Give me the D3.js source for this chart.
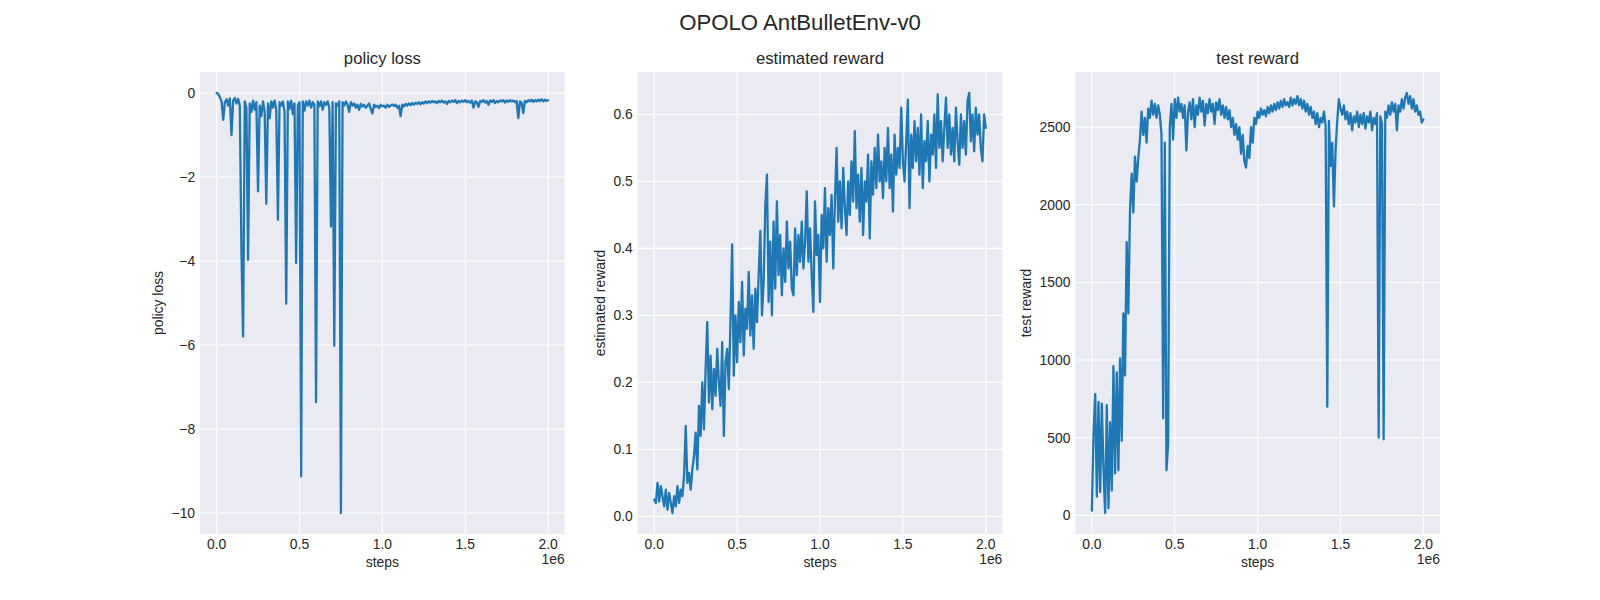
<html>
<head>
<meta charset="utf-8">
<script src="https://d3js.org/d3.v7.min.js"></script>
<style>
body { margin: 0; background: #ffffff; }
text { font-family: "Liberation Sans", Arial, sans-serif; fill: #262626; }
</style>
</head>
<body>
<svg id="fig" width="1600" height="600"></svg>
<script>

// Chart texts
var suptitle = "OPOLO AntBulletEnv-v0";
var panelTitles = ["policy loss", "estimated reward", "test reward"];
var xLabel = "steps";
var xOffsetLabel = "1e6";

// x axis ticks (steps) shared by all three panels
var xTicks = [0, 500000, 1000000, 1500000, 2000000];
var xTickLabels = ["0.0", "0.5", "1.0", "1.5", "2.0"];
var stepSize = 10000; // one logged value every 10k steps

// y axis ticks per panel
var policyLossTicks = [0, -2, -4, -6, -8, -10];
var estRewardTicks = [0.0, 0.1, 0.2, 0.3, 0.4, 0.5, 0.6];
var testRewardTicks = [0, 500, 1000, 1500, 2000, 2500];

// values, one per 10k steps
var policyLoss = [
  0.0, -0.02, -0.1, -0.2, -0.64, -0.22, -0.15, -0.3, -0.13, -1.0,
  -0.18, -0.12, -0.25, -0.14, -0.3, -3.75, -5.8, -0.2, -0.35, -3.97,
  -0.25, -0.45, -0.18, -0.4, -0.22, -2.34, -0.3, -0.55, -0.2, -0.45,
  -2.64, -0.25, -0.6, -0.2, -0.35, -0.18, -0.4, -3.02, -0.22, -0.3,
  -0.2, -0.45, -5.02, -0.2, -0.38, -0.18, -0.5, -0.25, -4.05, -0.3,
  -0.22, -9.13, -0.2, -0.42, -0.2, -0.3, -0.18, -0.35, -0.22, -0.28,
  -7.36, -0.2, -0.32, -0.2, -0.4, -0.22, -0.28, -0.2, -0.35, -3.18,
  -0.22, -6.02, -0.25, -0.3, -0.2, -10.0, -0.22, -0.3, -0.2, -0.28,
  -0.45, -0.22, -0.3, -0.25, -0.35, -0.28, -0.4, -0.26, -0.32, -0.28,
  -0.35, -0.3, -0.25, -0.38, -0.49, -0.28, -0.33, -0.3, -0.36, -0.28,
  -0.32, -0.3, -0.35, -0.28, -0.33, -0.3, -0.27, -0.31, -0.28, -0.35,
  -0.3, -0.55, -0.28, -0.32, -0.26, -0.3, -0.25, -0.29, -0.24, -0.28,
  -0.23, -0.26, -0.22, -0.27, -0.22, -0.25, -0.2, -0.24, -0.2, -0.23,
  -0.19, -0.22, -0.2, -0.24, -0.19, -0.22, -0.18, -0.23, -0.2, -0.26,
  -0.19, -0.22, -0.18, -0.21, -0.17, -0.24, -0.19, -0.22, -0.18, -0.21,
  -0.17, -0.22, -0.19, -0.23, -0.18, -0.35, -0.2, -0.22, -0.33, -0.19,
  -0.21, -0.17, -0.23, -0.19, -0.28, -0.18, -0.21, -0.17, -0.24, -0.19,
  -0.22, -0.18, -0.2, -0.17, -0.23, -0.18, -0.21, -0.17, -0.2, -0.18,
  -0.22, -0.19, -0.6, -0.2, -0.23, -0.48, -0.19, -0.22, -0.17, -0.2,
  -0.16, -0.21, -0.17, -0.2, -0.16, -0.19, -0.15, -0.2, -0.16, -0.19,
  -0.17
];

var estimatedReward = [
  0.025, 0.02, 0.05, 0.022, 0.045, 0.03, 0.015, 0.04, 0.01, 0.035,
  0.02, 0.005, 0.03, 0.015, 0.045, 0.02, 0.04, 0.03, 0.06, 0.135,
  0.05, 0.065, 0.04, 0.07, 0.09, 0.125, 0.07, 0.165, 0.12, 0.2,
  0.13, 0.22, 0.29, 0.17, 0.24, 0.16, 0.22, 0.18, 0.25, 0.2,
  0.165, 0.26, 0.12, 0.23, 0.25, 0.19, 0.29, 0.406, 0.21, 0.3,
  0.23, 0.32, 0.26, 0.35, 0.24, 0.31, 0.28, 0.365, 0.27, 0.33,
  0.25, 0.34, 0.29, 0.36, 0.426, 0.3, 0.35, 0.463, 0.51, 0.32,
  0.41, 0.3, 0.44, 0.34, 0.47, 0.36, 0.42, 0.33, 0.4, 0.35,
  0.44, 0.37, 0.41, 0.34, 0.33, 0.43, 0.36, 0.42, 0.38, 0.44,
  0.37, 0.41, 0.485, 0.38, 0.43, 0.36, 0.305, 0.47, 0.39, 0.42,
  0.32, 0.45, 0.4, 0.49, 0.38, 0.46, 0.42, 0.48, 0.37, 0.47,
  0.55, 0.44, 0.5, 0.43, 0.52, 0.46, 0.42, 0.5, 0.45, 0.53,
  0.47, 0.575, 0.46, 0.51, 0.44, 0.52, 0.42, 0.5, 0.47, 0.54,
  0.415, 0.53, 0.48, 0.55, 0.49, 0.57, 0.5, 0.53, 0.475, 0.55,
  0.5, 0.58, 0.49, 0.54, 0.455, 0.57, 0.51, 0.55, 0.52, 0.61,
  0.53, 0.5, 0.56, 0.622, 0.46, 0.57, 0.52, 0.59, 0.53, 0.58,
  0.51, 0.6, 0.49, 0.56, 0.53, 0.59, 0.5, 0.57, 0.54, 0.6,
  0.52, 0.63, 0.55, 0.59, 0.53, 0.58, 0.625, 0.55, 0.6, 0.54,
  0.58, 0.53, 0.61, 0.56, 0.525, 0.6, 0.55, 0.59, 0.54, 0.62,
  0.632, 0.56, 0.6, 0.545, 0.61, 0.57, 0.6, 0.55, 0.53, 0.6,
  0.58
];

var testReward = [
  30, 530, 780, 120, 730, 150, 720, 300, 15, 710,
  45, 600, 160, 960, 270, 920, 290, 1010, 480, 1300,
  900, 1760, 1300, 1960, 2200, 1950, 2310, 2150, 2300, 2420,
  2600, 2450, 2560, 2400, 2620, 2560, 2670, 2580, 2650, 2560,
  2640, 2580, 2450, 625, 2400, 290, 460, 2500, 2650, 2420,
  2680, 2560, 2690, 2600, 2650, 2560, 2640, 2350, 2600, 2660,
  2550, 2680, 2500, 2640, 2580, 2690, 2600, 2670, 2510, 2650,
  2590, 2680, 2600, 2650, 2520, 2660, 2610, 2680, 2580, 2640,
  2560, 2630, 2550, 2610, 2500, 2560, 2450, 2520, 2420, 2500,
  2330, 2450, 2280, 2240, 2380, 2300, 2500, 2400, 2560, 2520,
  2600, 2560, 2620, 2580, 2610, 2570, 2630, 2590, 2640, 2600,
  2650, 2610, 2660, 2620, 2670, 2630, 2680, 2640, 2660, 2630,
  2690, 2640, 2680, 2650, 2700, 2640, 2680, 2620, 2670, 2600,
  2650, 2580, 2630, 2560, 2600, 2520, 2590, 2500, 2560, 2530,
  2600, 2510, 700, 2540, 2250, 2400, 1990, 2350, 2540, 2680,
  2620, 2580, 2640, 2550, 2600, 2520, 2590, 2480, 2570, 2530,
  2600, 2500, 2580, 2520, 2590, 2490, 2570, 2530, 2600, 2480,
  2560, 2520, 2590, 500, 2570, 2520, 490, 2600, 2560, 2640,
  2580, 2660, 2600, 2650, 2480, 2640, 2600, 2680, 2620, 2690,
  2720, 2650, 2700, 2620, 2680, 2600, 2640, 2580, 2600, 2530,
  2550
];

// Figure layout, same as matplotlib subplots(1, 3) on a 16x6 figure
var figW = 1600, figH = 600;
var axLeft = 0.125 * figW, axRight = 0.9 * figW;
var axTop = (1 - 0.88) * figH, axBottom = (1 - 0.11) * figH;
var axW = (axRight - axLeft) / (3 + 2 * 0.2);
var axGap = 0.2 * axW;
var axH = axBottom - axTop;

var lineColor = "#1f77b4";
var faceColor = "#eaeaf2";

var svg = d3.select("#fig");

svg.append("text")
  .attr("x", figW / 2)
  .attr("y", 29.5)
  .attr("text-anchor", "middle")
  .style("font-size", "22.2px")
  .text(suptitle);

// pads the data range by 5% on each side, like matplotlib autoscaling
var paddedExtent = function(values) {
  var ext = d3.extent(values);
  var pad = (ext[1] - ext[0]) * 0.05;
  return [ext[0] - pad, ext[1] + pad];
};

var minusFormat = function(v) {
  return String(v).replace("-", "\u2212");
};

var drawPanel = function(k, values, yTicks, yFormat) {
  var x0 = axLeft + k * (axW + axGap);
  var g = svg.append("g").attr("transform", "translate(" + x0 + "," + axTop + ")");

  var steps = values.map(function(v, i) { return i * stepSize; });

  var x = d3.scaleLinear()
    .domain(paddedExtent(steps))
    .range([0, axW]);

  var y = d3.scaleLinear()
    .domain(paddedExtent(values))
    .range([axH, 0]);

  g.append("rect")
    .attr("width", axW)
    .attr("height", axH)
    .style("fill", faceColor);

  // white grid
  g.selectAll(".vgrid").data(xTicks).enter().append("line")
    .attr("x1", function(d) { return x(d); })
    .attr("x2", function(d) { return x(d); })
    .attr("y1", 0).attr("y2", axH)
    .style("stroke", "#ffffff").style("stroke-width", 1.1);

  g.selectAll(".hgrid").data(yTicks).enter().append("line")
    .attr("x1", 0).attr("x2", axW)
    .attr("y1", function(d) { return y(d); })
    .attr("y2", function(d) { return y(d); })
    .style("stroke", "#ffffff").style("stroke-width", 1.1);

  var line = d3.line()
    .x(function(d, i) { return x(steps[i]); })
    .y(function(d) { return y(d); });

  g.append("path")
    .datum(values)
    .attr("d", line)
    .style("fill", "none")
    .style("stroke", lineColor)
    .style("stroke-width", 2.3)
    .style("stroke-linejoin", "round")
    .style("stroke-linecap", "round");

  // tick labels
  g.selectAll(".xtl").data(xTicks).enter().append("text")
    .attr("x", function(d) { return x(d); })
    .attr("y", axH + 14.9)
    .attr("text-anchor", "middle")
    .style("font-size", "13.9px")
    .text(function(d, i) { return xTickLabels[i]; });

  var yLabels = g.append("g");
  yLabels.selectAll("text").data(yTicks).enter().append("text")
    .attr("x", -4.9)
    .attr("y", function(d) { return y(d) + 5; })
    .attr("text-anchor", "end")
    .style("font-size", "13.9px")
    .text(yFormat);

  g.append("text")
    .attr("x", axW / 2)
    .attr("y", axH + 32.5)
    .attr("text-anchor", "middle")
    .style("font-size", "13.9px")
    .text(xLabel);

  g.append("text")
    .attr("x", axW)
    .attr("y", axH + 29.5)
    .attr("text-anchor", "end")
    .style("font-size", "13.9px")
    .text(xOffsetLabel);

  // y label sits left of the widest tick label
  var labelsLeft = yLabels.node().getBBox().x;
  var yl = labelsLeft - 5.6 - 2.9;
  g.append("text")
    .attr("transform", "translate(" + yl + "," + (axH / 2) + ") rotate(-90)")
    .attr("text-anchor", "middle")
    .style("font-size", "13.9px")
    .text(panelTitles[k]);

  g.append("text")
    .attr("x", axW / 2)
    .attr("y", -8.3)
    .attr("text-anchor", "middle")
    .style("font-size", "16.7px")
    .text(panelTitles[k]);
};

drawPanel(0, policyLoss, policyLossTicks, minusFormat);
drawPanel(1, estimatedReward, estRewardTicks, d3.format(".1f"));
drawPanel(2, testReward, testRewardTicks, d3.format("d"));

</script>
</body>
</html>
